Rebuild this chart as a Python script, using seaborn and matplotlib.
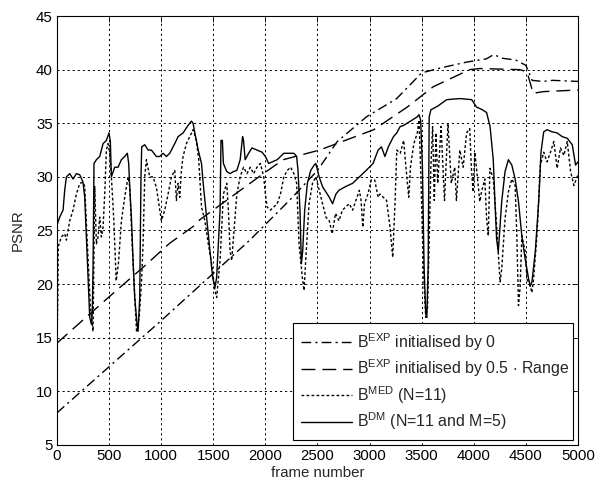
import numpy as np
import pandas as pd
import matplotlib
matplotlib.use("Agg")
import matplotlib.pyplot as plt
import seaborn as sns

# ---------------------------------------------------------
# DATA
# ---------------------------------------------------------
# B^EXP initialised by 0 (dash-dot)
exp0_frame = [0, 500, 1000, 1500, 1850, 2240, 2500, 2690, 2970, 3260, 3500, 3700, 3930, 4120,
              4190, 4280, 4400, 4500, 4560, 4660, 4760, 5000]
exp0_psnr = [8.0, 12.3, 16.6, 21.0, 24.1, 27.9, 30.6, 33.3, 35.6, 37.3, 39.7, 40.2, 40.7, 41.0,
             41.4, 41.05, 40.9, 40.4, 39.0, 38.9, 39.0, 38.9]

# B^EXP initialised by 0.5 * Range (long dash)
exph_frame = [0, 510, 830, 1080, 1310, 1370, 1980, 2170, 2520, 3040, 3360, 3610, 3960, 4060,
              4440, 4510, 4570, 4670, 5000]
exph_psnr = [14.5, 18.9, 21.6, 23.8, 25.4, 26.0, 30.3, 31.6, 32.5, 34.4, 36.5, 38.4, 40.0, 40.1,
             40.0, 39.8, 37.8, 37.95, 38.1]

# B^MED (N=11) (dotted)
med_frame = [0, 8, 12, 42, 74, 90, 122, 154, 186, 218, 250, 266, 290, 320, 346, 362, 378, 394,
             410, 426, 442, 458, 474, 490, 506, 522, 545, 568, 590, 618, 650, 682, 698, 720,
             745, 764, 790, 810, 826, 842, 858, 890, 922, 954, 986, 1002, 1034, 1066, 1098,
             1130, 1146, 1162, 1178, 1194, 1210, 1242, 1274, 1306, 1338, 1360, 1387, 1419,
             1452, 1484, 1516, 1532, 1565, 1597, 1629, 1645, 1661, 1677, 1694, 1726, 1758,
             1790, 1823, 1855, 1887, 1919, 1952, 1984, 2000, 2016, 2048, 2081, 2113, 2145,
             2177, 2210, 2242, 2274, 2300, 2323, 2355, 2371, 2387, 2419, 2452, 2484, 2516,
             2548, 2581, 2613, 2641, 2673, 2706, 2739, 2771, 2804, 2837, 2869, 2902, 2918,
             2935, 2951, 2984, 3016, 3049, 3082, 3098, 3131, 3163, 3196, 3222, 3245, 3261,
             3294, 3327, 3360, 3376, 3392, 3425, 3458, 3474, 3490, 3507, 3523, 3539, 3556,
             3572, 3588, 3605, 3621, 3637, 3654, 3686, 3719, 3752, 3784, 3817, 3833, 3866,
             3898, 3931, 3961, 3977, 3994, 4010, 4042, 4058, 4074, 4106, 4123, 4139, 4155,
             4187, 4219, 4235, 4252, 4268, 4300, 4332, 4365, 4397, 4413, 4429, 4445, 4461,
             4494, 4510, 4542, 4558, 4574, 4606, 4639, 4671, 4703, 4736, 4768, 4800, 4832,
             4865, 4897, 4929, 4961, 5000]
med_psnr = [14.2, 19.0, 23.5, 24.4, 24.7, 24.1, 25.9, 26.9, 28.4, 29.4, 29.5, 29.1, 24.0, 18.0,
            15.6, 29.1, 23.75, 24.4, 26.25, 24.4, 25.3, 28.4, 32.5, 33.1, 32.2, 30.0, 26.0,
            20.3, 22.0, 25.9, 28.1, 30.0, 29.1, 24.0, 19.0, 15.5, 17.0, 20.0, 23.75, 30.0,
            31.6, 30.0, 30.0, 29.0, 26.9, 25.9, 26.9, 28.4, 30.0, 30.6, 27.8, 29.4, 28.1,
            30.6, 31.9, 33.1, 33.75, 34.4, 33.4, 31.6, 27.2, 25.9, 23.75, 21.9, 19.4, 18.75,
            22.2, 28.4, 29.4, 26.9, 23.1, 22.2, 24.4, 28.4, 30.0, 30.9, 30.3, 30.9, 30.3,
            30.9, 31.25, 30.0, 28.4, 27.2, 26.9, 27.2, 27.5, 28.4, 30.0, 30.6, 30.9, 30.3,
            29.4, 23.75, 20.6, 19.4, 22.2, 27.5, 29.4, 30.0, 28.75, 27.5, 26.25, 25.9, 24.7,
            26.6, 25.9, 26.9, 27.2, 27.5, 26.9, 27.8, 28.75, 27.8, 25.3, 27.5, 28.4, 29.7,
            29.7, 28.1, 28.4, 28.1, 27.8, 25.3, 22.5, 27.8, 32.5, 32.2, 33.4, 29.7, 28.1,
            30.9, 33.1, 34.1, 35.3, 30.9, 24.7, 20.0, 16.9, 17.8, 24.1, 30.9, 34.7, 27.8,
            34.1, 29.4, 34.7, 27.8, 35.0, 29.4, 30.9, 27.8, 32.5, 30.9, 34.1, 34.5, 30.8,
            28.6, 32.3, 29.2, 27.7, 28.6, 29.8, 26.1, 24.5, 30.8, 29.8, 25.5, 23.0, 20.2,
            21.4, 26.1, 28.6, 29.8, 29.2, 24.5, 18.0, 19.8, 24.5, 23.0, 20.5, 19.8, 19.2,
            20.5, 24.5, 31.1, 32.3, 31.4, 32.3, 33.3, 30.8, 32.7, 32.0, 33.3, 30.5, 29.2,
            30.2]

# B^DM (N=11 and M=5) (solid)
dm_frame = [0, 26, 58, 74, 90, 122, 154, 186, 218, 250, 266, 282, 298, 314, 330, 339, 346,
            355, 378, 410, 442, 474, 499, 512, 522, 554, 586, 618, 650, 675, 688, 698, 714,
            730, 746, 768, 778, 794, 806, 813, 842, 874, 906, 954, 986, 1018, 1050, 1082,
            1130, 1162, 1210, 1258, 1290, 1306, 1323, 1355, 1387, 1403, 1435, 1468, 1494,
            1516, 1532, 1548, 1565, 1574, 1587, 1597, 1629, 1661, 1694, 1726, 1758, 1781,
            1790, 1806, 1839, 1871, 1919, 1968, 2000, 2032, 2065, 2113, 2145, 2177, 2226,
            2274, 2300, 2313, 2332, 2345, 2358, 2377, 2403, 2435, 2468, 2484, 2516, 2548,
            2581, 2613, 2645, 2677, 2706, 2771, 2837, 2902, 2967, 3033, 3082, 3114, 3147,
            3180, 3229, 3261, 3294, 3327, 3360, 3408, 3458, 3474, 3490, 3507, 3523, 3539,
            3549, 3562, 3572, 3588, 3654, 3740, 3868, 3980, 4027, 4075, 4123, 4156, 4187,
            4203, 4219, 4235, 4268, 4300, 4332, 4365, 4397, 4429, 4461, 4494, 4526, 4542,
            4558, 4590, 4623, 4645, 4671, 4703, 4752, 4800, 4849, 4897, 4945, 4977, 5000]
dm_psnr = [25.5, 26.25, 26.9, 28.75, 30.0, 30.3, 29.8, 30.3, 30.2, 29.5, 28.1, 24.4, 20.6,
           16.9, 16.25, 17.5, 21.6, 31.25, 31.6, 31.9, 33.1, 33.4, 34.1, 33.3, 30.0, 30.9,
           30.9, 31.6, 31.9, 32.2, 31.25, 29.1, 26.25, 22.2, 18.75, 16.25, 15.6, 18.75, 30.0,
           32.8, 33.0, 32.5, 32.5, 31.9, 31.9, 32.2, 31.9, 32.2, 33.1, 33.75, 34.1, 34.8,
           35.2, 35.0, 34.1, 32.5, 31.25, 29.4, 26.25, 23.1, 20.6, 19.7, 20.6, 23.75, 26.9,
           33.4, 33.4, 31.25, 30.5, 30.3, 30.5, 30.6, 31.6, 33.75, 33.4, 31.6, 32.2, 32.7,
           32.5, 32.3, 31.9, 31.25, 31.4, 31.6, 31.9, 32.2, 32.2, 32.2, 31.9, 30.6, 26.9,
           21.9, 23.1, 26.9, 29.4, 30.6, 31.1, 31.25, 30.0, 29.1, 28.6, 28.1, 27.5, 28.4,
           28.75, 29.1, 29.4, 30.0, 30.6, 31.25, 32.5, 32.8, 31.9, 32.8, 33.75, 34.1, 34.7,
           34.8, 35.0, 35.3, 35.6, 35.8, 35.3, 30.9, 21.6, 17.2, 16.9, 21.6, 35.6, 36.25,
           36.6, 37.2, 37.3, 37.2, 36.5, 36.3, 36.0, 34.7, 31.6, 27.7, 24.2, 23.0, 27.7,
           30.5, 31.6, 31.1, 29.8, 27.7, 24.5, 22.3, 20.5, 19.8, 20.2, 23.0, 27.7, 32.3,
           34.2, 34.4, 34.2, 34.1, 33.75, 33.6, 33.0, 31.1, 31.4]

labels = [r"B$^{EXP}$ initialised by 0",
          r"B$^{EXP}$ initialised by 0.5 $\cdot$ Range",
          r"B$^{MED}$ (N=11)",
          r"B$^{DM}$ (N=11 and M=5)"]


def main():
    sns.set_theme(style="white")
    plt.rcParams["font.family"] = ["Liberation Sans", "DejaVu Sans"]
    plt.rcParams["mathtext.default"] = "regular"

    fig = plt.figure(figsize=(5.95, 4.91), dpi=100)
    ax = fig.add_axes([0.0958, 0.0937, 0.8756, 0.8737])

    series = [
        (exp0_frame, exp0_psnr, (0, (7, 3, 1.5, 3))),
        (exph_frame, exph_psnr, (0, (10, 5))),
        (med_frame, med_psnr, (0, (2, 1.6))),
        (dm_frame, dm_psnr, "-"),
    ]
    for (fr, ps, ls), lab in zip(series, labels):
        df = pd.DataFrame({"frame": fr, "psnr": ps})
        sns.lineplot(data=df, x="frame", y="psnr", ax=ax, color="black",
                     linewidth=1.0, linestyle=ls, estimator=None, sort=False,
                     label=lab)

    ax.set_xlim(0, 5000)
    ax.set_ylim(5, 45)
    ax.set_xticks(np.arange(0, 5001, 500))
    ax.set_yticks(np.arange(5, 46, 5))
    ax.grid(True, color="black", linestyle=(0, (2.2, 3)), linewidth=0.7)
    for sp in ax.spines.values():
        sp.set_color("black")
        sp.set_linewidth(0.8)
    ax.tick_params(direction="in", length=4, width=0.6, top=True, right=True,
                   labelsize=10.8, colors="black", pad=3)
    ax.set_xlabel("frame number", fontsize=10.8, labelpad=2)
    ax.set_ylabel("PSNR", fontsize=10.8, labelpad=8)

    leg = ax.legend(loc="lower left", bbox_to_anchor=(0.4536, 0.0117, 0.536, 0.279),
                    mode="expand", fontsize=11.4, frameon=True, fancybox=False,
                    framealpha=1, edgecolor="black", handlelength=3.2,
                    borderaxespad=0, labelspacing=0.3, handletextpad=0.35,
                    borderpad=0.5)
    leg.get_frame().set_linewidth(0.8)

    fig.savefig("out.png", dpi=100, facecolor="white")


if __name__ == "__main__":
    main()
